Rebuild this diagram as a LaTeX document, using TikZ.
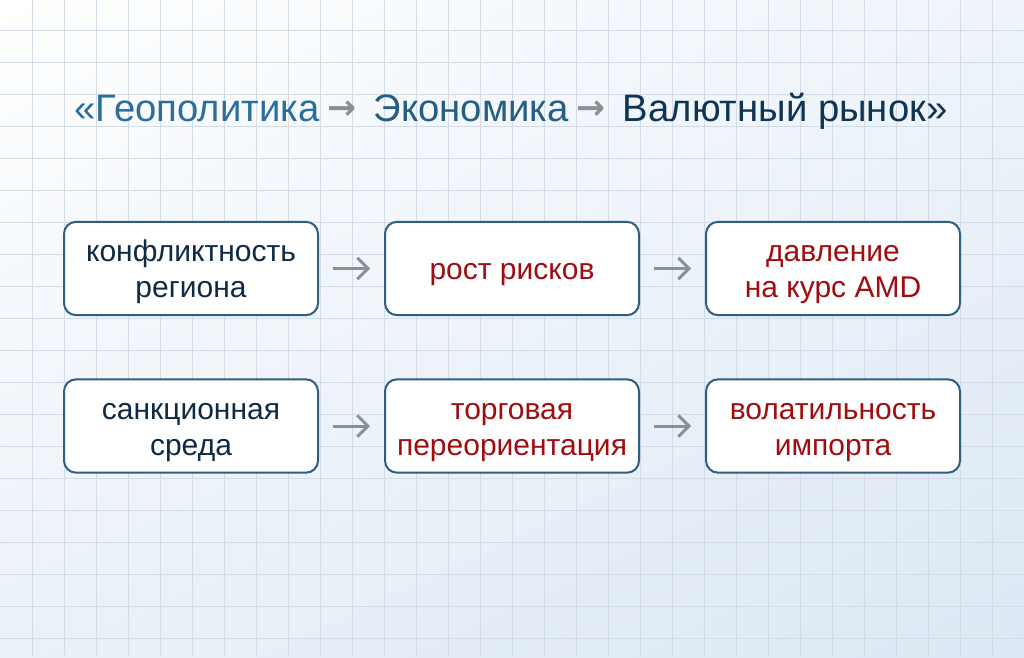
\documentclass[tikz,border=0pt]{standalone}
\usepackage{fontspec}
\setmainfont{Liberation Sans}
\newfontfamily\arrowfont{DejaVu Sans}
\usetikzlibrary{arrows.meta,shadings}

\definecolor{geoblue}{HTML}{2C6E9B}
\definecolor{ecoblue}{HTML}{245E85}
\definecolor{fxnavy}{HTML}{0F3352}
\definecolor{arrowgray}{HTML}{8C9095}
\definecolor{boxline}{HTML}{2E5F80}
\definecolor{causenavy}{HTML}{0E2A45}
\definecolor{effectred}{HTML}{A00D10}
\definecolor{gridblue}{HTML}{D3DCE6}
\definecolor{bgtr}{HTML}{EEF4FA}
\definecolor{bgbl}{HTML}{EAF1F8}
\definecolor{bgbr}{HTML}{DCE8F4}

% box text, lowered a little inside its box
\newcommand{\boxlines}[1]{\raisebox{-3pt}[\height][\depth]{\begin{tabular}{@{}c@{}}#1\end{tabular}}}
\newcommand{\titlearrow}{\hspace{6pt}\raisebox{1pt}{\textcolor{arrowgray}{\arrowfont\bfseries\fontsize{26}{28}\selectfont→}}\hspace{13pt}}

\begin{document}
\begin{tikzpicture}[x=0.75pt, y=-0.75pt,
    gridline/.style={gridblue, line width=0.75pt},
    box/.style={draw=boxline, line width=1.5pt, fill=white, rounded corners=9pt,
        minimum width=190.5pt, minimum height=70pt, inner sep=0pt,
        font=\fontsize{22.5}{27}\selectfont},
    link/.style={-{Straight Barb[length=8pt,width=16pt]}, line width=2.25pt,
        draw=arrowgray, shorten <=10.5pt, shorten >=10.5pt}]

    % Background and grid
    \useasboundingbox (0,0) rectangle (1024,657);
    \shade[upper left=white, upper right=bgtr, lower left=bgbl, lower right=bgbr]
        (0,0) rectangle (1024,657);
    \foreach \gx in {32,64,...,1023}
        \draw[gridline] (\gx,0) -- (\gx,657);
    \foreach \gy in {30,62,...,657}
        \draw[gridline] (0,\gy) -- (1024,\gy);

    % Title
    \node[anchor=base, inner sep=0pt, font=\fontsize{28.7}{32}\selectfont] (title) at (511,121)
        {\textcolor{geoblue}{«Геополитика}\titlearrow%
         \textcolor{ecoblue}{Экономика}\titlearrow%
         \textcolor{fxnavy}{Валютный рынок»}};

    % First chain
    \node[box, text=causenavy] (conflict) at (191,268.5) {\boxlines{конфликтность\\региона}};
    \node[box, text=effectred] (risks) at (512,268.5) {\boxlines{рост рисков}};
    \node[box, text=effectred] (pressure) at (833,268.5) {\boxlines{давление\\на курс AMD}};

    % Second chain
    \node[box, text=causenavy] (sanctions) at (191,426) {\boxlines{санкционная\\среда}};
    \node[box, text=effectred] (trade) at (512,426) {\boxlines{торговая\\переориентация}};
    \node[box, text=effectred] (imports) at (833,426) {\boxlines{волатильность\\импорта}};

    % Links
    \draw[link] (conflict) -- (risks);
    \draw[link] (risks) -- (pressure);
    \draw[link] (sanctions) -- (trade);
    \draw[link] (trade) -- (imports);

\end{tikzpicture}
\end{document}
